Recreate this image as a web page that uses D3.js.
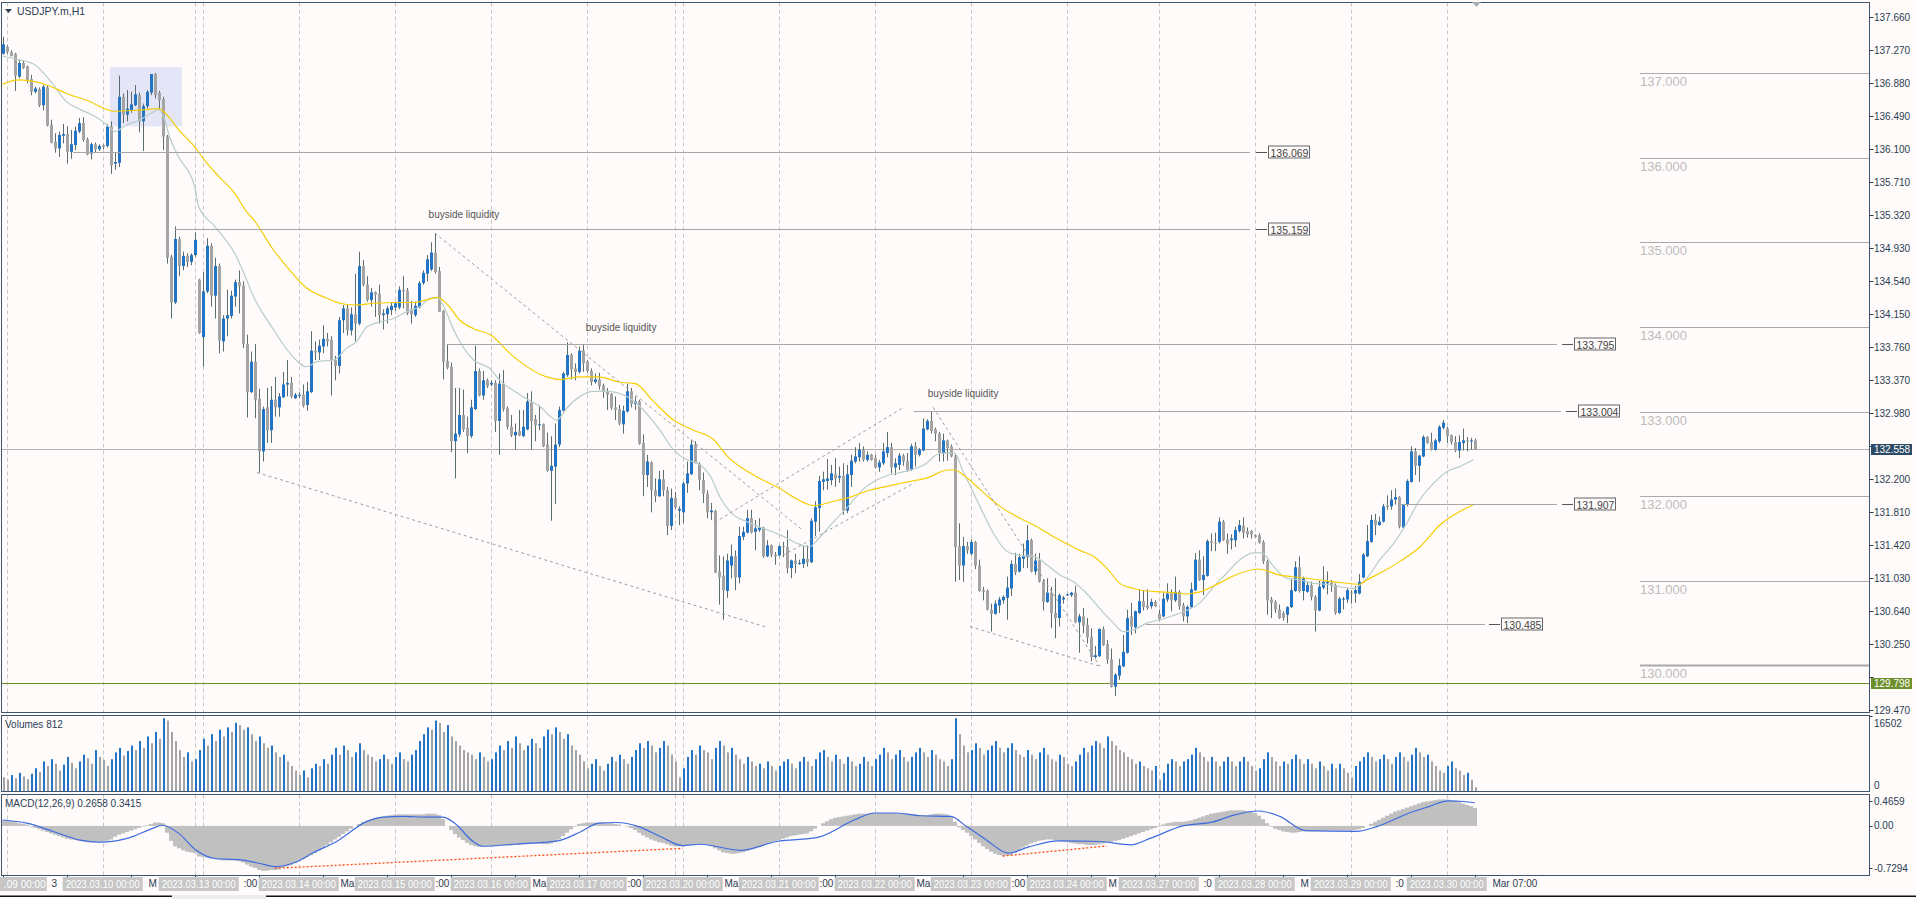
<!DOCTYPE html>
<html><head><meta charset="utf-8">
<script src="https://cdn.jsdelivr.net/npm/d3@7/dist/d3.min.js"></script>
<style>
html,body{margin:0;padding:0;background:#fffbfa;overflow:hidden}
svg{display:block}
text{font-family:"Liberation Sans",Arial,sans-serif}
</style></head>
<body><svg id="c" width="1916" height="899"></svg>
<script>
// ---------------- DATA ----------------
const openP=[137.23,137.31,137.25,137.23,136.96,137.12,137.08,136.93,136.78,136.81,
136.62,136.83,136.39,136.19,136.11,136.26,136.28,136.07,136.15,136.31,
136.41,136.22,136.05,136.16,136.10,136.15,136.14,136.37,135.93,135.94,
136.72,136.51,136.56,136.62,136.74,136.43,136.61,136.77,136.99,136.77,
136.69,136.25,134.83,134.29,135.04,134.72,134.84,134.77,134.85,134.56,
133.88,134.42,134.96,134.37,134.72,133.83,134.10,134.13,134.36,134.53,
134.49,133.80,133.23,133.59,133.15,132.53,133.05,132.78,133.14,133.05,
133.17,133.32,133.34,133.16,133.20,133.20,133.08,133.23,133.72,133.70,
133.77,133.86,133.85,133.61,133.54,134.08,134.22,133.96,134.15,134.04,
134.72,134.50,134.32,134.41,134.39,134.14,134.15,134.20,134.23,134.23,
134.44,134.43,134.21,134.14,134.23,134.52,134.63,134.68,134.88,134.66,
134.19,133.60,133.53,132.65,132.73,132.96,132.81,132.71,133.03,133.48,
133.19,133.37,133.32,133.34,132.89,133.33,133.04,132.82,132.72,132.77,
132.71,132.79,133.11,132.91,132.85,132.85,132.61,132.30,132.35,132.61,
133.01,133.43,133.67,133.51,133.47,133.72,133.59,133.48,133.35,133.38,
133.31,133.24,133.21,133.05,133.03,132.85,133.00,133.24,133.09,133.12,
132.63,132.25,132.40,132.07,132.00,132.20,132.07,131.65,131.98,131.83,
131.81,132.15,132.26,132.61,132.38,132.19,132.03,131.81,131.83,131.11,
131.06,130.88,131.18,131.29,131.04,131.52,131.57,131.74,131.58,131.60,
131.63,131.29,131.42,131.31,131.30,131.41,131.40,131.15,131.24,131.21,
131.20,131.26,131.22,131.70,131.86,132.17,132.18,132.19,132.26,132.22,
132.24,131.83,132.25,132.41,132.46,132.55,132.43,132.49,132.45,132.34,
132.39,132.51,132.58,132.34,132.37,132.48,132.42,132.31,132.59,132.49,
132.54,132.79,132.89,132.79,132.74,132.51,132.66,132.59,132.47,131.41,
131.18,131.41,131.32,131.46,131.18,130.89,130.88,130.66,130.61,130.71,
130.77,130.80,130.91,131.20,131.11,131.26,131.28,131.48,131.11,131.24,
130.99,130.75,130.86,130.62,130.56,130.78,130.83,130.83,130.86,130.51,
130.58,130.48,130.34,130.10,130.11,130.43,130.25,130.07,129.75,129.88,
129.99,130.15,130.58,130.45,130.62,130.76,130.71,130.70,130.75,130.61,
130.58,130.78,130.86,130.77,130.87,130.71,130.58,130.69,130.89,131.25,
131.01,131.06,131.47,131.45,131.46,131.70,131.49,131.48,131.48,131.59,
131.65,131.59,131.59,131.54,131.54,131.46,131.23,130.78,130.75,130.66,
130.62,130.60,130.69,130.88,131.16,130.88,130.87,130.95,130.81,130.65,
130.92,130.97,130.98,130.95,130.62,130.78,130.78,130.86,130.85,130.85,
131.04,131.29,131.46,131.72,131.66,131.70,131.89,131.88,131.96,131.99,
131.63,131.90,132.17,132.53,132.36,132.47,132.70,132.64,132.55,132.65,
132.81,132.80,132.72,132.64,132.54,132.63,132.66,132.65,132.66];
const highP=[137.43,137.33,137.27,137.24,137.16,137.15,137.09,136.98,136.84,136.83,
136.86,136.86,136.45,136.29,136.31,136.40,136.37,136.33,136.37,136.47,
136.48,136.24,136.18,136.18,136.16,136.16,136.40,136.43,136.07,136.97,
136.76,136.80,136.78,136.86,136.77,136.64,136.80,136.99,137.00,136.79,
136.72,136.27,134.85,135.19,135.07,134.89,134.87,134.87,135.12,134.57,
134.65,135.05,134.99,134.82,134.75,134.14,134.44,134.43,134.56,134.67,
134.54,133.91,133.71,133.80,133.27,133.06,133.28,133.30,133.41,133.22,
133.47,133.61,133.41,133.22,133.23,133.32,133.35,133.95,133.83,133.85,
134.02,133.93,133.89,133.66,134.12,134.26,134.26,134.23,134.63,134.89,
134.79,134.60,134.46,134.42,134.50,134.21,134.25,134.29,134.30,134.48,
134.60,134.46,134.31,134.30,134.54,134.67,134.85,135.00,135.11,134.71,
134.20,133.79,133.58,133.28,133.28,133.26,132.94,133.14,133.78,133.51,
133.48,133.39,133.37,133.37,133.45,133.49,133.06,132.96,132.86,133.02,
133.02,133.22,133.24,132.96,133.07,132.86,132.75,132.71,132.86,133.06,
133.47,133.82,133.69,133.57,133.77,133.79,133.61,133.51,133.45,133.46,
133.33,133.28,133.22,133.18,133.08,133.07,133.33,133.28,133.18,133.14,
132.73,132.49,132.41,132.21,132.30,132.31,132.11,132.09,132.05,131.88,
132.17,132.41,132.67,132.65,132.40,132.28,132.07,131.92,131.84,131.30,
131.29,131.32,131.43,131.36,131.64,131.64,131.84,131.84,131.72,131.74,
131.64,131.48,131.43,131.34,131.42,131.46,131.60,131.25,131.32,131.25,
131.41,131.42,131.74,131.94,132.24,132.29,132.44,132.37,132.45,132.35,
132.39,132.37,132.49,132.58,132.63,132.59,132.53,132.50,132.49,132.43,
132.63,132.76,132.63,132.45,132.51,132.50,132.51,132.62,132.64,132.57,
132.92,132.91,133.00,132.81,132.76,132.74,132.67,132.61,132.49,131.68,
131.52,131.46,131.49,131.47,131.25,130.93,130.90,130.73,130.77,130.81,
130.83,131.05,131.24,131.33,131.32,131.44,131.66,131.50,131.32,131.33,
131.02,131.03,130.93,131.03,130.85,130.82,130.85,130.87,130.94,130.61,
130.68,130.56,130.44,130.23,130.44,130.46,130.30,130.20,129.91,130.08,
130.36,130.66,130.74,130.65,130.90,130.89,130.90,130.79,130.77,130.66,
130.86,130.97,130.90,131.05,130.89,130.74,130.71,130.98,131.33,131.36,
131.29,131.49,131.56,131.57,131.75,131.72,131.56,131.55,131.64,131.72,
131.75,131.63,131.60,131.55,131.56,131.48,131.25,130.81,130.77,130.72,
130.64,130.70,131.02,131.23,131.29,131.05,130.99,130.99,130.83,131.00,
131.17,131.11,131.01,130.97,130.81,130.81,130.91,130.89,130.94,131.08,
131.33,131.66,131.78,131.79,131.76,131.91,132.01,132.07,132.09,132.00,
131.91,132.20,132.59,132.57,132.49,132.72,132.71,132.75,132.68,132.84,
132.90,132.82,132.73,132.71,132.72,132.80,132.70,132.69,132.68];
const lowP=[137.22,137.23,137.20,136.79,136.94,137.05,136.88,136.74,136.76,136.60,
136.56,136.37,136.17,136.06,136.01,136.17,135.93,135.99,136.09,136.29,
136.19,136.03,135.98,136.06,136.08,136.10,136.12,135.81,135.86,135.89,
136.41,136.43,136.53,136.61,136.30,136.08,136.58,136.74,136.70,136.58,
136.09,134.75,134.10,134.27,134.60,134.67,134.71,134.73,134.83,133.92,
133.53,134.40,134.24,134.10,133.69,133.71,133.89,134.10,134.24,134.16,
133.75,132.93,133.22,132.92,132.28,132.41,132.63,132.63,132.94,132.94,
133.16,133.18,133.16,133.15,133.16,133.05,133.01,133.22,133.61,133.61,
133.69,133.77,133.19,133.37,133.45,133.93,133.90,133.90,133.83,134.02,
134.48,134.30,134.24,134.12,134.04,133.97,134.04,134.14,134.19,134.21,
134.22,134.14,134.04,134.12,134.22,134.50,134.54,134.66,134.63,134.18,
133.38,133.50,132.52,132.21,132.70,132.76,132.51,132.69,133.02,133.18,
133.14,133.28,133.30,132.76,132.49,133.00,132.79,132.70,132.55,132.71,
132.70,132.78,132.55,132.65,132.78,132.58,132.29,131.71,131.91,132.58,
133.00,133.41,133.38,133.37,133.45,133.47,133.46,133.31,133.33,133.26,
133.16,133.02,133.02,132.90,132.84,132.74,132.99,133.05,133.02,132.61,
132.00,132.11,131.81,131.93,131.99,132.00,131.54,131.60,131.85,131.66,
131.68,132.04,132.25,132.39,132.07,131.92,131.74,131.72,131.09,130.72,
130.54,130.80,131.03,130.89,130.97,131.48,131.56,131.56,131.36,131.58,
131.27,131.28,131.28,131.19,131.29,131.28,131.09,131.03,131.09,131.19,
131.15,131.17,131.21,131.53,131.58,132.07,132.08,132.13,132.11,132.16,
131.78,131.80,132.11,132.39,132.41,132.41,132.41,132.42,132.33,132.29,
132.37,132.46,132.27,132.25,132.31,132.36,132.29,132.30,132.35,132.47,
132.53,132.78,132.74,132.65,132.41,132.41,132.42,132.46,130.99,131.01,
130.99,131.32,131.30,131.14,130.87,130.77,130.65,130.40,130.60,130.62,
130.73,130.54,130.82,131.07,131.10,131.15,131.15,131.10,131.07,130.98,
130.65,130.74,130.44,130.32,130.46,130.73,130.82,130.81,130.50,130.15,
130.38,130.26,130.05,130.08,130.10,130.23,130.02,129.74,129.64,129.83,
129.98,130.14,130.36,130.38,130.61,130.65,130.66,130.67,130.69,130.53,
130.57,130.75,130.64,130.75,130.66,130.52,130.50,130.68,130.88,131.00,
130.83,131.05,131.35,131.35,131.44,131.47,131.32,131.37,131.40,131.57,
131.50,131.51,131.50,131.51,131.44,131.20,130.60,130.56,130.62,130.55,
130.53,130.50,130.68,130.87,130.86,130.77,130.86,130.77,130.40,130.64,
130.90,130.84,130.87,130.60,130.61,130.66,130.74,130.73,130.74,130.84,
131.03,131.28,131.45,131.54,131.65,131.69,131.84,131.84,131.90,131.62,
131.62,131.88,132.16,132.25,132.17,132.46,132.62,132.54,132.54,132.63,
132.79,132.63,132.61,132.52,132.45,132.54,132.53,132.55,132.55];
const closeP=[137.34,137.25,137.20,136.97,137.12,137.06,136.92,136.78,136.82,136.62,
136.84,136.38,136.18,136.11,136.27,136.28,136.07,136.16,136.32,136.41,
136.21,136.04,136.16,136.10,136.14,136.13,136.37,135.91,135.95,136.72,
136.51,136.58,136.63,136.75,136.43,136.61,136.78,136.99,136.74,136.68,
136.25,134.82,134.29,135.04,134.72,134.84,134.77,134.85,135.03,133.93,
134.42,134.96,134.37,134.72,133.84,134.10,134.14,134.37,134.53,134.48,
133.80,133.23,133.59,133.14,132.53,133.03,132.78,133.14,133.05,133.18,
133.32,133.34,133.18,133.20,133.20,133.07,133.24,133.72,133.70,133.78,
133.86,133.83,133.61,133.54,134.08,134.22,133.96,134.15,134.04,134.72,
134.50,134.32,134.41,134.38,134.14,134.16,134.22,134.25,134.28,134.44,
134.42,134.16,134.15,134.25,134.52,134.64,134.80,134.88,134.65,134.18,
133.59,133.52,132.65,132.74,132.96,132.79,132.71,133.05,133.48,133.19,
133.37,133.30,133.34,132.89,133.33,133.03,132.82,132.72,132.76,132.72,
132.82,133.12,132.89,132.84,132.85,132.59,132.30,132.36,132.61,133.02,
133.45,133.67,133.50,133.47,133.72,133.57,133.48,133.35,133.38,133.30,
133.24,133.20,133.05,133.02,132.86,133.01,133.24,133.09,133.12,132.62,
132.25,132.41,132.07,132.00,132.20,132.07,131.65,131.98,131.87,131.85,
132.15,132.27,132.61,132.39,132.19,132.03,131.81,131.83,131.10,131.04,
130.89,131.24,131.29,131.04,131.53,131.58,131.74,131.57,131.62,131.63,
131.29,131.42,131.31,131.29,131.41,131.40,131.15,131.24,131.20,131.21,
131.26,131.22,131.71,131.87,132.18,132.20,132.21,132.27,132.21,132.24,
131.83,132.26,132.42,132.47,132.55,132.43,132.49,132.43,132.34,132.40,
132.53,132.58,132.34,132.39,132.48,132.41,132.31,132.59,132.49,132.55,
132.80,132.89,132.77,132.74,132.51,132.66,132.57,132.47,131.40,131.18,
131.41,131.36,131.46,131.18,130.88,130.87,130.66,130.61,130.73,130.78,
130.81,130.92,131.20,131.10,131.28,131.29,131.48,131.11,131.24,130.99,
130.75,130.86,130.62,130.56,130.83,130.80,130.84,130.86,130.51,130.58,
130.47,130.33,130.10,130.12,130.43,130.24,130.07,129.75,129.89,130.00,
130.16,130.56,130.46,130.64,130.76,130.69,130.68,130.75,130.70,130.55,
130.79,130.85,130.77,130.87,130.70,130.58,130.69,130.90,131.25,131.01,
131.07,131.47,131.45,131.44,131.70,131.48,131.44,131.50,131.60,131.66,
131.57,131.55,131.55,131.52,131.45,131.23,130.77,130.74,130.66,130.56,
130.56,130.69,130.89,131.16,130.88,131.03,130.95,130.81,130.65,130.93,
130.99,130.99,130.95,130.62,130.79,130.79,130.89,130.85,130.89,130.99,
131.31,131.47,131.72,131.66,131.70,131.88,131.87,131.96,131.99,131.64,
131.90,132.18,132.53,132.36,132.48,132.70,132.63,132.55,132.66,132.82,
132.87,132.71,132.64,132.54,132.64,132.66,132.65,132.66,132.558];
const volumes=[3000,2500,3500,2800,4000,3200,2600,3800,
5000,4200,6500,5500,7000,6000,4500,5800,7500,6200,5000,
6500,8000,7200,6000,9000,7500,6800,5500,7000,8500,9500,7800,
8800,10000,9000,11000,9500,12000,10500,13000,11500,
16000,15500,13000,
11000,9000,7500,8500,6500,7000,
9000,11500,10000,12500,11000,13500,12000,14000,13000,15000,14500,13500,
14000,12500,11000,12000,10500,9500,10000,8500,7500,8000,6500,5500,4500,
3500,4500,3000,5000,6000,5500,
7000,6000,8000,9500,8000,10000,9000,7500,8500,10500,9000,8000,
7500,6500,7000,8000,7000,6000,7500,8500,7000,6500,8000,9000,
11000,12500,14000,13500,15500,15000,13000,14500,12000,11000,10000,9000,8500,
8000,7000,8500,7500,6500,7000,
8500,10000,9000,11000,9500,12000,10500,9000,10000,11500,10500,9500,
12000,13500,12500,14000,13000,11500,12500,10000,9000,
8000,6500,5000,6000,7000,5500,4500,6000,7500,6500,8000,7000,6000,7500,9000,
10500,9500,11000,10000,8500,9500,11000,10000,8000,6500,3000,5000,
7500,9000,8000,10000,9000,8500,7000,9500,11000,10000,8500,9500,8000,
7000,6000,7500,6500,5500,6000,5000,6500,5500,4500,5500,6500,
7000,6000,5000,6500,7500,6500,5500,7000,8500,9000,7500,6500,8000,7000,6000,7500,6500,5500,
6000,7500,6500,5500,7000,8000,9500,8500,7000,8000,9000,7500,6500,7500,8500,9500,8500,7500,9000,
8000,7000,6500,5500,7000,16000,12500,10000,8500,
9000,10500,9500,8000,9000,10000,11000,9500,8500,9500,10500,9000,
8000,7500,9000,8000,7000,8500,9500,8000,7000,6500,8000,7500,6000,5500,6500,
8000,9500,8500,10000,11000,10500,9500,12000,11000,10000,9000,8500,7500,
7000,6000,6500,5500,5000,4500,5500,2500,4000,6000,7000,6500,
5500,6500,7000,8000,9500,8500,7500,6500,7500,6500,5500,6500,
7500,6500,5500,6500,7500,6500,5500,4500,5000,7000,8500,7500,6500,5500,6500,
6000,7000,8000,7000,6000,7000,6000,5000,6500,5500,4500,6000,5000,
6000,5000,4000,3000,5500,6500,7500,8500,7500,6500,7000,8000,7000,6000,7500,8500,7500,6500,
8000,9500,8500,7500,8000,6500,5500,4500,4000,
5500,6500,5000,4500,3500,4000,2500,812];
const macdMain=[0.08,0.08,0.07,0.06,0.04,0.03,0.02,-0.01,-0.03,-0.05,-0.07,
-0.09,-0.11,-0.13,-0.15,-0.17,-0.19,-0.2,-0.21,-0.22,
-0.23,-0.24,-0.24,-0.24,-0.23,-0.23,-0.22,
-0.2,-0.16,-0.13,-0.11,-0.09,-0.07,-0.05,-0.03,-0.01,0.01,
0.03,0.05,0.05,0.04,-0.1,
-0.22,-0.3,-0.33,-0.36,-0.38,-0.39,-0.4,-0.45,
-0.46,-0.47,-0.48,-0.49,-0.5,-0.51,-0.51,-0.51,-0.51,-0.52,-0.54,
-0.57,-0.6,-0.62,-0.65,-0.66,-0.66,-0.65,-0.65,-0.64,
-0.62,-0.6,-0.58,-0.55,-0.52,-0.49,-0.46,-0.43,
-0.4,-0.36,-0.32,-0.28,-0.24,-0.2,-0.16,
-0.12,-0.08,-0.04,0,0.03,
0.06,0.08,0.1,0.12,0.13,0.14,0.15,0.16,
0.17,0.17,0.17,0.17,0.17,0.17,0.17,0.17,0.18,0.18,0.18,0.16,0.1,
0,-0.06,-0.12,-0.17,-0.21,-0.25,-0.28,-0.3,
-0.31,-0.31,-0.3,-0.3,-0.3,-0.29,-0.29,-0.29,-0.29,-0.28,-0.28,-0.27,-0.27,-0.26,-0.26,-0.26,-0.27,-0.27,-0.26,-0.24,-0.2,
-0.15,-0.1,-0.05,-0.01,
0.03,0.04,0.05,0.05,0.05,0.05,0.05,0.04,0.04,0.03,0.02,0,-0.01,
-0.03,-0.06,-0.1,-0.14,-0.17,-0.2,-0.22,-0.24,-0.25,-0.27,-0.29,
-0.3,-0.3,-0.3,-0.29,-0.28,-0.27,-0.27,-0.27,
-0.28,-0.3,-0.33,-0.36,-0.39,-0.4,
-0.41,-0.41,-0.4,-0.39,
-0.37,-0.35,-0.33,-0.31,-0.29,-0.27,-0.25,-0.23,-0.21,
-0.19,-0.17,-0.15,-0.14,-0.13,-0.12,-0.11,-0.08,-0.04,
0,0.04,0.07,0.1,0.12,0.13,0.14,0.15,0.16,0.17,
0.18,0.18,0.18,0.19,0.19,0.19,0.19,0.19,0.19,0.19,0.18,0.18,0.18,0.17,0.17,0.16,0.16,0.16,0.17,0.18,0.18,0.18,0.17,0.15,
0.06,-0.02,-0.06,-0.1,-0.15,
-0.2,-0.25,-0.3,-0.34,-0.38,-0.41,-0.43,-0.44,
-0.44,-0.43,-0.4,-0.36,
-0.32,-0.29,-0.26,-0.24,-0.22,-0.21,-0.2,-0.2,-0.21,-0.22,
-0.23,-0.24,-0.25,-0.26,-0.27,-0.27,-0.28,-0.28,-0.28,-0.27,-0.26,-0.25,-0.24,
-0.22,-0.21,-0.19,-0.17,-0.15,-0.13,-0.11,-0.09,-0.07,
-0.05,-0.03,-0.01,0.02,
0.04,0.05,0.06,0.06,0.06,0.07,0.08,0.1,0.12,0.14,0.16,0.18,0.19,
0.2,0.21,0.22,0.23,0.23,0.23,0.23,0.22,0.21,0.19,
0.15,0.1,0.04,-0.01,
-0.04,-0.06,-0.08,-0.09,-0.1,-0.1,-0.09,-0.08,
-0.08,-0.08,-0.08,-0.08,-0.08,-0.07,-0.07,-0.07,-0.07,-0.07,-0.07,-0.07,-0.06,-0.05,-0.03,
0,0.03,0.06,0.09,0.12,0.15,0.18,0.21,
0.23,0.25,0.27,0.29,0.31,0.33,0.35,0.36,0.37,0.38,
0.39,0.39,0.39,0.38,0.37,0.35,0.33,0.31,
0.29,0.2658];
const macdSignal=[[0,0.087],[6,0.04],[13,-0.09],[19.4,-0.21],[24,-0.24],[28.3,-0.22],[32.8,-0.15],[37.3,-0.04],[40,0.01],[44,-0.11],[48.4,-0.36],[53,-0.48],[59.6,-0.5],[64,-0.55],[68.5,-0.6],[73,-0.54],[77.5,-0.4],[84,-0.21],[90.8,0.06],[95.3,0.13],[99.8,0.14],[106.5,0.13],[110,0.13],[113,0.04],[117.6,-0.23],[120,-0.3],[127.7,-0.27],[138.8,-0.22],[144.4,-0.09],[149,0.04],[153.4,0.05],[159,-0.01],[164.5,-0.16],[170,-0.29],[174.3,-0.27],[184.5,-0.36],[193.5,-0.23],[203.7,-0.17],[213,0.09],[218,0.19],[223,0.19],[229.5,0.15],[237,0.14],[241,-0.01],[246,-0.21],[251.4,-0.4],[256.5,-0.31],[264,-0.22],[274.3,-0.23],[282,-0.28],[287,-0.18],[295,0.0],[302.7,0.06],[307.8,0.16],[314.2,0.22],[319.3,0.14],[325.7,-0.07],[338.4,-0.08],[343.5,-0.01],[351.2,0.18],[356.3,0.28],[361.4,0.37],[365.2,0.36],[368,0.3415]];
const maFast=[[0,137.20],[4,137.16],[8,137.10],[11,136.96],[13,136.84],[16,136.66],[19,136.58],[23,136.49],[26,136.39],[28,136.31],[31,136.39],[34,136.44],[38,136.55],[39,136.57],[40,136.51],[42,136.21],[44,136.01],[48,135.66],[49,135.42],[53,135.19],[58,134.87],[60,134.67],[62.7,134.36],[67.7,133.97],[71.8,133.69],[76,133.53],[78.5,133.59],[82.7,133.61],[86,133.75],[88.5,133.83],[91,134.00],[94.3,134.06],[97.7,134.10],[101,134.18],[104.3,134.24],[107,134.34],[108.7,134.34],[110.3,134.24],[112.7,133.97],[117.7,133.61],[121.8,133.51],[124.3,133.37],[129.3,133.20],[134.3,133.06],[138.5,132.90],[141,133.04],[144.3,133.18],[147.7,133.24],[151,133.24],[156,133.18],[159.3,133.06],[164.3,132.78],[167.7,132.55],[171,132.43],[173.7,132.39],[177,132.23],[179.3,131.99],[182.7,131.78],[186,131.70],[190.2,131.62],[194.5,131.54],[198.8,131.44],[201.5,131.40],[204,131.50],[207.7,131.70],[211,131.86],[215.3,132.09],[220.3,132.23],[225.3,132.29],[230.3,132.37],[234.5,132.51],[238,132.51],[240,132.30],[241.8,132.13],[244.3,131.88],[247.7,131.56],[251,131.35],[254.3,131.30],[257.7,131.29],[261,131.19],[264.3,131.07],[267.7,130.99],[271,130.85],[274.3,130.67],[277.7,130.50],[280.2,130.40],[282.7,130.42],[286,130.50],[289.3,130.54],[292.7,130.59],[296,130.65],[299.3,130.74],[302.7,130.93],[306,131.09],[309.3,131.25],[312.7,131.33],[314.7,131.33],[317.7,131.17],[321,131.03],[324.3,131.01],[327.7,130.97],[331,130.96],[334.3,130.93],[337.7,130.91],[341,131.03],[344.3,131.25],[347.7,131.44],[351,131.68],[354.3,131.96],[357.7,132.15],[361,132.29],[364.3,132.35],[367.7,132.43]];
const maSlow=[[0,136.87],[4,136.92],[8,136.90],[11,136.86],[16,136.76],[21,136.68],[28,136.55],[33,136.56],[36,136.57],[39,136.58],[41,136.51],[44,136.33],[48,136.13],[51,135.94],[54,135.78],[58,135.58],[61,135.36],[62.7,135.27],[67.7,134.91],[71.8,134.67],[76,134.46],[81,134.34],[84.3,134.28],[87.7,134.26],[93,134.28],[97.7,134.29],[102.7,134.29],[106,134.32],[108.7,134.35],[111.3,134.26],[114.3,134.08],[117.7,133.98],[121.8,133.91],[127.7,133.65],[136,133.41],[139.3,133.38],[144.3,133.41],[149,133.41],[154,133.35],[158.2,133.33],[162.7,133.12],[167.7,132.90],[172.7,132.78],[177.7,132.67],[181,132.48],[187.7,132.25],[194.3,132.09],[198.8,131.96],[202.7,131.89],[207.7,131.94],[211.3,131.98],[216.7,132.07],[221.3,132.12],[226.3,132.17],[231.3,132.22],[236.3,132.31],[238,132.31],[240.2,132.25],[242.7,132.15],[246,132.01],[249.3,131.88],[252.7,131.78],[256,131.70],[259.3,131.62],[262.7,131.52],[266,131.44],[269.3,131.36],[272.7,131.29],[276,131.15],[279.3,130.97],[282.7,130.91],[286,130.88],[289.3,130.87],[292.7,130.86],[296,130.845],[299.3,130.87],[304,130.97],[309.3,131.09],[314,131.14],[319,131.07],[324.3,131.04],[329.3,131.01],[334.3,130.98],[339.3,130.96],[341,131.01],[344.3,131.09],[349.3,131.23],[354.3,131.40],[359.3,131.66],[364.3,131.82],[367.7,131.90]];
const priceTicks=[137.660,137.270,136.880,136.490,136.100,135.710,135.320,134.930,134.540,134.150,133.760,133.370,132.980,132.590,132.200,131.810,131.420,131.030,130.640,130.250,129.860,129.470];
const roundLevels=[137,136,135,134,133,132,131,130];
const levelPrices=[136.069,135.159,133.795,133.004,131.907,130.485];
const levelStartBars=[17.6,43,111,227.8,349.3,285.8];
const daySepBars=[1,25,48,50,74,98,122,146,168,170,194,218,242,266,289,313,337,361];
const dayLabels=["2023.03.09 00:00","2023.03.10 00:00","2023.03.13 00:00","2023.03.14 00:00","2023.03.15 00:00","2023.03.16 00:00","2023.03.17 00:00","2023.03.20 00:00","2023.03.21 00:00","2023.03.22 00:00","2023.03.23 00:00","2023.03.24 00:00","2023.03.27 00:00","2023.03.28 00:00","2023.03.29 00:00","2023.03.30 00:00"];
const dayLabelBars=[1,25,49,74,98,122,146,170,194,218,242,266,289,313,337,361];
const timeTickLabels=["8 Mar 2023","9 Mar 15:00","10 Mar 07:00","10 Mar 23:00","13 Mar 14:00","14 Mar 06:00","14 Mar 22:00","15 Mar 14:00","16 Mar 06:00","16 Mar 22:00","17 Mar 14:00","20 Mar 06:00","20 Mar 22:00","21 Mar 14:00","22 Mar 06:00","22 Mar 22:00","23 Mar 14:00","24 Mar 06:00","24 Mar 22:00","27 Mar 15:00","28 Mar 07:00","28 Mar 23:00","29 Mar 15:00","30 Mar 07:00"];
const trendLines=[[63.6,132.28,190.8,130.455],[108,135.11,200,131.60],[178,131.69,225.2,133.05],[195,131.30,228,132.16],[232.6,133.05,274.3,129.99],[241.8,130.46,274.3,129.99]];
const macdRedLines=[[68,-0.625,170,-0.331],[250,-0.445,276,-0.296]];
const zoneRect=[26.8,44.8,137.07,136.37];
const textNotes=["buyside liquidity","buyside liquidity","buyside liquidity"];
const textNoteBars=[115.3,154.6,240.1];
const textNotePrices=[135.29,133.95,133.17];
const lastPrice=132.558, greenLevel=129.798;
const volMax=16502, macdMax=0.4659, macdMin=-0.7294;

// ---------------- LAYOUT ----------------
const svg=d3.select('#c');
const R=1869.5, L=1.5;
const P={main:[2.5,712.5],vol:[715.5,791.5],macd:[794.5,875.5]};
const x=d3.scaleLinear().domain([0,368]).range([2.7,1474.7]);
const y=d3.scaleLinear().domain([129.47,137.66]).range([710.3,17.3]);
const yV=d3.scaleLinear().domain([0,volMax]).range([791,716]);
const yM=d3.scaleLinear().domain([macdMin,macdMax]).range([875.4,794.3]);
const FONT='"Liberation Sans",Arial,sans-serif';
const AX='#2b3d52', BORDER='#3b566e';

svg.append('rect').attr('width',1916).attr('height',899).attr('fill','#fffbfa');
const defs=svg.append('defs');
for(const k of Object.keys(P)){
  defs.append('clipPath').attr('id','clip-'+k).append('rect')
    .attr('x',L+0.5).attr('y',P[k][0]+0.5).attr('width',R-L-1).attr('height',P[k][1]-P[k][0]-1);
}
const gMain=svg.append('g').attr('clip-path','url(#clip-main)');
const gVol=svg.append('g').attr('clip-path','url(#clip-vol)');
const gMacd=svg.append('g').attr('clip-path','url(#clip-macd)');

// day separators
[[gMain,P.main],[gVol,P.vol],[gMacd,P.macd]].forEach(([g,p])=>{
  g.selectAll(null).data(daySepBars).join('line')
   .attr('x1',d=>Math.round(x(d))+0.5).attr('x2',d=>Math.round(x(d))+0.5)
   .attr('y1',p[0]).attr('y2',p[1])
   .attr('stroke','#c9c9c9').attr('stroke-dasharray','4,3');
});

// zone rectangle
gMain.append('rect').attr('x',x(zoneRect[0])).attr('width',x(zoneRect[1])-x(zoneRect[0]))
  .attr('y',y(zoneRect[2])).attr('height',y(zoneRect[3])-y(zoneRect[2])).attr('fill','#e4e6f8');

// round levels
const rlX=1640;
gMain.selectAll(null).data(roundLevels).join('line')
  .attr('x1',rlX).attr('x2',R).attr('y1',d=>Math.round(y(d))+0.5).attr('y2',d=>Math.round(y(d))+0.5)
  .attr('stroke','#a9a9a9').attr('stroke-width',d=>d===130?2:1);
gMain.selectAll(null).data(roundLevels).join('text')
  .attr('x',rlX).attr('y',d=>Math.round(y(d))+13).text(d=>d.toFixed(3))
  .attr('font-size',13).attr('fill','#bcbcbc').attr('font-family',FONT);

// last price and green lines
gMain.append('line').attr('x1',L).attr('x2',R).attr('y1',Math.round(y(lastPrice))+0.5).attr('y2',Math.round(y(lastPrice))+0.5).attr('stroke','#b0b0b0');
gMain.append('line').attr('x1',L).attr('x2',R).attr('y1',Math.round(y(greenLevel))+0.5).attr('y2',Math.round(y(greenLevel))+0.5).attr('stroke','#6e8f2c');

// candles
const bars=d3.range(closeP.length);
const cx=i=>Math.round(x(i));
gMain.selectAll(null).data(bars).join('line')
  .attr('x1',i=>cx(i)+0.5).attr('x2',i=>cx(i)+0.5)
  .attr('y1',i=>y(highP[i])).attr('y2',i=>y(lowP[i]))
  .attr('stroke','#5b6d6d');
gMain.selectAll(null).data(bars).join('rect')
  .attr('x',i=>cx(i)-1).attr('width',3)
  .attr('y',i=>Math.min(y(openP[i]),y(closeP[i])))
  .attr('height',i=>Math.max(1,Math.abs(y(openP[i])-y(closeP[i]))))
  .attr('fill',i=>closeP[i]>=openP[i]?'#2274c6':'#a4a4a4');

// moving averages
const lineGen=d3.line().x(d=>x(d[0])).y(d=>y(d[1])).curve(d3.curveMonotoneX);
gMain.append('path').attr('d',lineGen(maFast)).attr('fill','none').attr('stroke','#b7cccc').attr('stroke-width',1.2);
gMain.append('path').attr('d',lineGen(maSlow)).attr('fill','none').attr('stroke','#f5cd00').attr('stroke-width',1.15);

// trend lines
gMain.selectAll(null).data(trendLines).join('line')
  .attr('x1',d=>x(d[0])).attr('y1',d=>y(d[1])).attr('x2',d=>x(d[2])).attr('y2',d=>y(d[3]))
  .attr('stroke','#9d9d9d').attr('stroke-dasharray','3,3');

// horizontal levels with labels
const levelEndX=[1250,1250,1557,1561,1557,1485];
const levelBoxX=[1268,1268,1574,1578,1574,1501];
levelPrices.forEach((p,k)=>{
  const yy=Math.round(y(p))+0.5;
  gMain.append('line').attr('x1',x(levelStartBars[k])).attr('x2',levelEndX[k]).attr('y1',yy).attr('y2',yy).attr('stroke','#a6a6a6');
  gMain.append('line').attr('x1',levelBoxX[k]-12).attr('x2',levelBoxX[k]-1).attr('y1',yy).attr('y2',yy).attr('stroke','#555');
  gMain.append('rect').attr('x',levelBoxX[k]+0.5).attr('y',yy-6.5).attr('width',41).attr('height',12).attr('fill','#fffbfa').attr('stroke','#666');
  gMain.append('text').attr('x',levelBoxX[k]+2.5).attr('y',yy+4).text(p.toFixed(3)).attr('font-size',10.5).attr('fill','#444').attr('font-family',FONT);
});

// text notes
gMain.selectAll(null).data(textNotes).join('text')
  .attr('x',(d,i)=>x(textNoteBars[i])).attr('y',(d,i)=>y(textNotePrices[i]))
  .attr('text-anchor','middle').text(d=>d).attr('font-size',10).attr('fill','#555').attr('font-family',FONT);

// volumes
gVol.selectAll(null).data(volumes).join('rect')
  .attr('x',(d,i)=>cx(i)).attr('width',2)
  .attr('y',d=>yV(d)).attr('height',d=>Math.max(0,yV(0)-yV(d)))
  .attr('fill',(d,i)=>i>0&&d>volumes[i-1]?'#2274c6':'#a4a4a4');

// MACD
gMacd.selectAll(null).data(macdMain).join('rect')
  .attr('x',(d,i)=>cx(i)-2).attr('width',4)
  .attr('y',d=>Math.min(yM(d),yM(0))).attr('height',d=>Math.abs(yM(d)-yM(0)))
  .attr('fill','#c0c0c0');
gMacd.append('path').attr('d',d3.line().x(d=>x(d[0])).y(d=>yM(d[1])).curve(d3.curveMonotoneX)(macdSignal))
  .attr('fill','none').attr('stroke','#3d6be0').attr('stroke-width',1.2);
gMacd.selectAll(null).data(macdRedLines).join('line')
  .attr('x1',d=>x(d[0])).attr('y1',d=>yM(d[1])).attr('x2',d=>x(d[2])).attr('y2',d=>yM(d[3]))
  .attr('stroke','#ff4a10').attr('stroke-width',1.3).attr('stroke-dasharray','2,2');

// panel borders
for(const k of Object.keys(P)){
  svg.append('rect').attr('x',L).attr('y',P[k][0]).attr('width',R-L).attr('height',P[k][1]-P[k][0])
   .attr('fill','none').attr('stroke',BORDER);
}

// titles
svg.append('path').attr('d','M5,9 L12,9 L8.5,13 Z').attr('fill','#2b3d52');
svg.append('text').attr('x',17).attr('y',14.5).text('USDJPY.m,H1').attr('font-size',10.5).attr('fill',AX).attr('font-family',FONT);
svg.append('text').attr('x',5).attr('y',728).text('Volumes '+volumes[volumes.length-1]).attr('font-size',10).attr('fill',AX).attr('font-family',FONT);
svg.append('text').attr('x',5).attr('y',807).text('MACD(12,26,9) '+macdMain[macdMain.length-1].toFixed(4)+' '+macdSignal[macdSignal.length-1][1].toFixed(4)).attr('font-size',10).attr('fill',AX).attr('font-family',FONT);
svg.append('path').attr('d','M1472,2 L1481,2 L1476.5,7 Z').attr('fill','#a7b0b5');

// right price axis
const ax=svg.append('g').attr('font-family',FONT).attr('font-size',10).attr('fill',AX);
priceTicks.forEach(p=>{
  const yy=Math.round(y(p))+0.5;
  ax.append('line').attr('x1',R).attr('x2',R+4).attr('y1',yy).attr('y2',yy).attr('stroke',AX);
  const hidden=Math.abs(p-lastPrice)<0.12||Math.abs(p-greenLevel)<0.12;
  if(!hidden) ax.append('text').attr('x',1874).attr('y',yy+3.5).text(p.toFixed(3));
});
const tagLabel=(p,bg)=>{
  const yy=Math.round(y(p))+0.5;
  ax.append('rect').attr('x',1871).attr('y',yy-5.5).attr('width',41).attr('height',11).attr('fill',bg);
  ax.append('text').attr('x',1874).attr('y',yy+3.5).text(p.toFixed(3)).attr('fill','#ffffff');
};
tagLabel(lastPrice,'#2d4a66');
tagLabel(greenLevel,'#6e8f2c');
[[volMax,723],[0,785]].forEach(([v,yy])=>{
  ax.append('text').attr('x',1874).attr('y',yy+3.5).text(v);
});
ax.append('line').attr('x1',R).attr('x2',R+3).attr('y1',716.5).attr('y2',716.5).attr('stroke',AX);
[[macdMax,801.3,4],[0,yM(0),2],[macdMin,868.3,4]].forEach(([v,yy,dg])=>{
  ax.append('line').attr('x1',R).attr('x2',R+3).attr('y1',Math.round(yy)+0.5).attr('y2',Math.round(yy)+0.5).attr('stroke',AX);
  ax.append('text').attr('x',1874).attr('y',yy+3.5).text(v.toFixed(dg));
});

// time axis: gray day-label boxes on top of the regular tick labels (only uncovered parts shown)
const tg=svg.append('g').attr('font-family',FONT).attr('font-size',10);
const BW=80;
const boxes=dayLabelBars.map(b=>[x(b)-BW/2,x(b)+BW/2]);
function fragments(sel, keep){
  const node=sel.node(), t=sel.text(), out=[]; let cur=null;
  for(let i=0;i<t.length;i++){
    const e=node.getExtentOfChar(i);
    const ok=keep(e);
    if(ok){ if(!cur) cur={s:'',x:e.x,i0:i}; cur.s+=t[i]; }
    else if(cur){ out.push(cur); cur=null; }
  }
  if(cur) out.push(cur);
  return out.filter(f=>f.s.trim().length>0).map(f=>{
    const lead=f.s.length-f.s.trimStart().length;
    const xx=lead>0?node.getExtentOfChar(f.i0+lead).x:f.x;
    return {s:f.s.trim(),x:xx};
  });
}
timeTickLabels.forEach((t,k)=>{
  const xx=cx(k*16)+0.5;
  tg.append('line').attr('x1',xx).attr('x2',xx).attr('y1',876).attr('y2',880).attr('stroke',AX);
  const tmp=tg.append('text').attr('x',xx+3).attr('y',887).text(t);
  const fr=fragments(tmp,e=>!boxes.some(b=>e.x+e.width>b[0]&&e.x<b[1])&&e.x+e.width<1912);
  tmp.remove();
  fr.forEach(f=>tg.append('text').attr('x',f.x).attr('y',887).text(f.s).attr('fill',AX));
});
dayLabels.forEach((t,k)=>{
  const xx=x(dayLabelBars[k]);
  tg.append('rect').attr('x',xx-BW/2).attr('y',877).attr('width',BW).attr('height',14).attr('fill','#c6c6c6');
  const tx=tg.append('text').attr('x',xx-37).attr('y',887.5).text(t).attr('fill','#ffffff')
    .attr('textLength',74).attr('lengthAdjust','spacingAndGlyphs');
  if(xx-37<1){
    const fr=fragments(tx,e=>e.x>=1);
    tx.remove();
    fr.forEach(f=>tg.append('text').attr('x',f.x).attr('y',887.5).text(f.s).attr('fill','#ffffff')
      .attr('textLength',(f.s.length*74/t.length)).attr('lengthAdjust','spacingAndGlyphs'));
  }
});
// bottom tab bar
svg.append('rect').attr('x',0).attr('y',895.5).attr('width',1916).attr('height',1.5).attr('fill','#111');
svg.append('rect').attr('x',172).attr('y',895).attr('width',94).attr('height',4).attr('fill','#ececec');
</script></body></html>
